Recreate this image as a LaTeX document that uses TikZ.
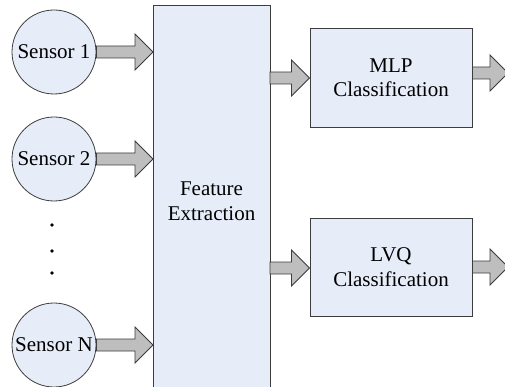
\documentclass[tikz,border=0pt]{standalone}
\usepackage{fontspec}
\setmainfont{Liberation Serif}
\usetikzlibrary{calc}
\definecolor{boxfill}{RGB}{230,237,248}
\definecolor{boxline}{RGB}{60,60,60}
\definecolor{arrfill}{RGB}{190,190,190}
\tikzset{
  txt/.style={font=\fontsize{21}{24.5}\selectfont, align=center, text=black},
  sensor/.style={circle, draw=boxline, fill=boxfill, line width=0.8pt, minimum size=84pt, inner sep=0pt, txt},
  block/.style={rectangle, draw=boxline, fill=boxfill, line width=0.9pt, inner sep=0pt, txt},
  blockarrow/.style={draw=boxline, fill=arrfill, line width=0.8pt, line join=miter},
  dotmark/.style={circle, fill=black, inner sep=0pt, minimum size=3.6pt}
}
\newcommand\blockarr[2]{%
  \path[blockarrow] let \p1=#1, \p2=#2 in
    (\x1,\y1+6pt) -- (\x2-18pt,\y1+6pt) -- (\x2-18pt,\y1+18pt) -- (\x2,\y1)
    -- (\x2-18pt,\y1-18pt) -- (\x2-18pt,\y1-6pt) -- (\x1,\y1-6pt) -- cycle;}
\begin{document}
\begin{tikzpicture}[x=1pt,y=-1pt]
\useasboundingbox (0,0) rectangle (505,387);
% feature extraction block (extends below the picture)
\node[block, minimum width=117pt, minimum height=400pt, anchor=north west] (fe) at (153,5) {};
\node[txt] (fetxt) at (211.5,201) {Feature\\Extraction};
% sensors
\node[sensor] (s1) at (54,52) {Sensor 1};
\node[sensor] (s2) at (54,159) {Sensor 2};
\node[sensor] (sN) at (54,345) {Sensor N};
\node[dotmark] (d1) at (52,225) {};
\node[dotmark] (d2) at (52,251) {};
\node[dotmark] (d3) at (52,273) {};
% classifiers
\node[block, minimum width=162pt, minimum height=99pt] (mlp) at (391,77.5) {MLP\\Classification};
\node[block, minimum width=162pt, minimum height=98pt] (lvq) at (391,267) {LVQ\\Classification};
% free ends of output arrows
\coordinate (o1) at (508,73);
\coordinate (o2) at (508,267);
% input arrows
\blockarr{(s1.east)}{(fe.west |- s1.east)}
\blockarr{(s2.east)}{(fe.west |- s2.east)}
\blockarr{(sN.east)}{(fe.west |- sN.east)}
% classifier input arrows
\coordinate (i1) at (270,78);
\coordinate (i2) at (270,268);
\blockarr{(i1)}{(mlp.west |- i1)}
\blockarr{(i2)}{(lvq.west |- i2)}
% output arrows
\blockarr{(mlp.east |- o1)}{(o1)}
\blockarr{(lvq.east |- o2)}{(o2)}
\end{tikzpicture}
\end{document}
